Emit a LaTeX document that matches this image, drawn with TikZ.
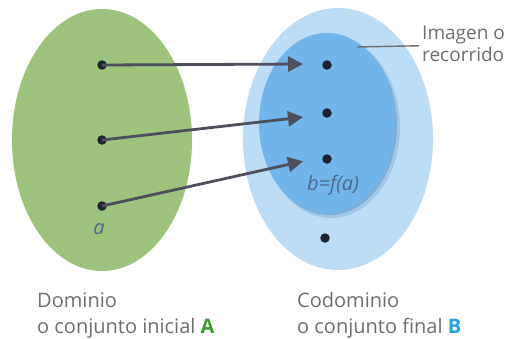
\documentclass[tikz,border=0pt]{standalone}
\usepackage{fontspec}
\setmainfont{Open Sans}
\usetikzlibrary{arrows.meta}
\definecolor{greenset}{HTML}{9DC37D}
\definecolor{outerblue}{HTML}{BDDDF6}
\definecolor{innerblue}{HTML}{72B5EA}
\definecolor{shadowblue}{HTML}{4F86BA}
\definecolor{dotcol}{HTML}{1E2233}
\definecolor{arrowcol}{HTML}{4E4F5C}
\definecolor{txtgray}{HTML}{6D6E71}
\definecolor{labblue}{HTML}{4E6A8C}
\definecolor{Agreen}{HTML}{3A9C2C}
\definecolor{Bblue}{HTML}{2BA3DA}
\tikzset{
  pt/.style={circle,fill=dotcol,inner sep=0pt,minimum size=9.5pt},
  maparrow/.style={draw=arrowcol,line width=2.8pt,-{Triangle[length=15pt,width=15pt]},shorten >=1pt},
  caption/.style={text=txtgray,font=\fontsize{20}{26}\selectfont,anchor=base west,inner sep=0pt},
  imglab/.style={text=txtgray,font=\fontsize{19}{22}\selectfont,anchor=base west,inner sep=0pt},
  ptlab/.style={text=labblue,font=\fontsize{20}{24}\selectfont\itshape},
}
\begin{document}
\begin{tikzpicture}[x=1pt,y=-1pt]
\useasboundingbox (0,0) rectangle (510,338);
\fill[white] (0,0) rectangle (510,338);
% sets
\fill[greenset] (102,140) ellipse [x radius=90,y radius=131];
\fill[outerblue] (338,139) ellipse [x radius=95,y radius=131];
\fill[shadowblue,opacity=0.25] (331,127) ellipse [x radius=69,y radius=91];
\fill[shadowblue,opacity=0.4] (329,125) ellipse [x radius=68,y radius=90];
\fill[innerblue] (327,123) ellipse [x radius=68,y radius=90];
% points
\node[pt] (a1) at (102,65) {};
\node[pt] (a2) at (102,140) {};
\node[pt] (a3) at (102,206) {};
\node[pt] (b1) at (327,65) {};
\node[pt] (b2) at (327,113) {};
\node[pt] (b3) at (327,159) {};
\node[pt] (b4) at (325,238) {};
\coordinate (t1) at (304,64);
\coordinate (t2) at (304,117);
\coordinate (t3) at (304,161);
\draw[maparrow] (a1.center) -- (t1);
\draw[maparrow] (a2.center) -- (t2);
\draw[maparrow] (a3.center) -- (t3);
\node[ptlab] (la) at (99,229) {a};
\node[ptlab] (lb) at (333,185) {b=f(a)};
% image label
\node[imglab] (img1) at (422,39) {Imagen o};
\node[imglab] (img2) at (422,61) {recorrido};
\coordinate (imgp) at (357,47);
\draw[txtgray,line width=1.4pt] (imgp) -- ([xshift=-3pt,yshift=-2pt]img1.south west);
% captions
\node[caption] (dom1) at (37,307) {Dominio};
\node[caption] (dom2) at (37,333) {o conjunto inicial {\color{Agreen}\textbf{A}}};
\node[caption] (cod1) at (297,307) {Codominio};
\node[caption] (cod2) at (297,333) {o conjunto final {\color{Bblue}\textbf{B}}};
\end{tikzpicture}
\end{document}
